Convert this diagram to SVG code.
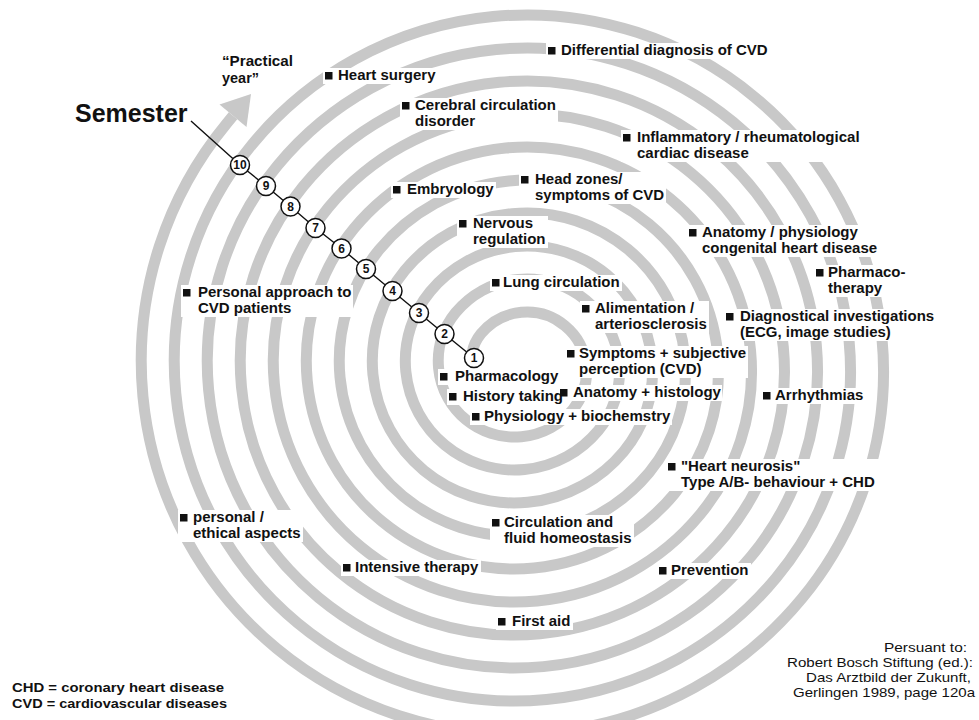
<svg xmlns="http://www.w3.org/2000/svg" width="979" height="720" viewBox="0 0 979 720">
<style>
.band{fill:none;stroke:#c8c8c8;stroke-width:11;stroke-linecap:butt}
.lbl{font-family:"Liberation Sans",Arial,sans-serif;font-weight:bold;font-size:15px;fill:#111}
.leg{font-family:"Liberation Sans",Arial,sans-serif;font-weight:bold;font-size:13.6px;fill:#111}
.reg{font-family:"Liberation Sans",Arial,sans-serif;font-size:13.4px;fill:#111}
.bg{fill:#fff}
.bul{fill:#111}
.sem{fill:#fff;stroke:#111;stroke-width:1.5}
.num{font-family:"Liberation Sans",Arial,sans-serif;font-weight:bold;font-size:12px;fill:#111;text-anchor:middle}
.chain{fill:none;stroke:#111;stroke-width:1.4}
</style>
<rect width="979" height="720" fill="#fff"/>
<g id="spiral">
<path class="band" d="M 471.9 353.5 A 43 43 0 0 1 481.13 333.60 A 59.5 59.5 0 0 1 572.87 409.40 A 76 76 0 0 1 455.68 312.58 A 92.5 92.5 0 0 1 598.32 430.42 A 109 109 0 0 1 430.24 291.56 A 125.5 125.5 0 0 1 623.76 451.44 A 142 142 0 0 1 404.80 270.54 A 158.5 158.5 0 0 1 649.20 472.46 A 175 175 0 0 1 379.35 249.51 A 191.5 191.5 0 0 1 674.65 493.49 A 208 208 0 0 1 353.91 228.49 A 224.5 224.5 0 0 1 700.09 514.51 A 241 241 0 0 1 328.47 207.47 A 257.5 257.5 0 0 1 725.53 535.53 A 274 274 0 0 1 303.02 186.45 A 290.5 290.5 0 0 1 750.98 556.55 A 307 307 0 0 1 277.58 165.43 A 323.5 323.5 0 0 1 776.42 577.57 A 340 340 0 0 1 252.14 144.41 A 356.5 356.5 0 0 1 801.86 598.59 A 373 373 0 0 1 226.70 123.39 L 233 115.7"/>
<polygon points="219.5,104.5 246.5,127 251,94" fill="#c8c8c8"/>
</g>
<g id="label-practical-year"><text class="lbl" x="222" y="66" style="font-size:14px" textLength="71" lengthAdjust="spacingAndGlyphs">“Practical</text><text class="lbl" x="222" y="83" style="font-size:14px" textLength="37" lengthAdjust="spacingAndGlyphs">year”</text></g>

<g id="n-anatomy-histology"><rect class="bg" x="558" y="385" width="164" height="16"/><rect class="bul" x="560" y="389" width="7.5" height="7.5"/><text class="lbl" x="573" y="397">Anatomy + histology</text></g>
<g id="n-differential"><rect class="bg" x="546" y="43" width="224" height="16"/><rect class="bul" x="548" y="47" width="7.5" height="7.5"/><text class="lbl" x="561" y="55">Differential diagnosis of CVD</text></g>
<g id="n-heart-surgery"><rect class="bg" x="323" y="68" width="115" height="16"/><rect class="bul" x="325" y="72" width="7.5" height="7.5"/><text class="lbl" x="338" y="80">Heart surgery</text></g>
<g id="n-cerebral"><rect class="bg" x="400" y="98" width="158" height="32"/><rect class="bul" x="402" y="102" width="7.5" height="7.5"/><text class="lbl" x="415" y="110">Cerebral circulation</text><text class="lbl" x="415" y="126">disorder</text></g>
<g id="n-inflammatory"><rect class="bg" x="621" y="130" width="240" height="32"/><rect class="bul" x="623" y="134" width="7.5" height="7.5"/><text class="lbl" x="637" y="142">Inflammatory / rheumatological</text><text class="lbl" x="637" y="158">cardiac disease</text></g>
<g id="n-embryology"><rect class="bg" x="391" y="182" width="105" height="16"/><rect class="bul" x="393" y="186" width="7.5" height="7.5"/><text class="lbl" x="407" y="194">Embryology</text></g>
<g id="n-head-zones"><rect class="bg" x="519" y="172" width="147" height="32"/><rect class="bul" x="521" y="176" width="7.5" height="7.5"/><text class="lbl" x="535" y="184">Head zones/</text><text class="lbl" x="535" y="200">symptoms of CVD</text></g>
<g id="n-nervous"><rect class="bg" x="457" y="216" width="91" height="32"/><rect class="bul" x="459" y="220" width="7.5" height="7.5"/><text class="lbl" x="473" y="228">Nervous</text><text class="lbl" x="473" y="244">regulation</text></g>
<g id="n-anatomy-physiology"><rect class="bg" x="687" y="225" width="192" height="32"/><rect class="bul" x="689" y="229" width="7.5" height="7.5"/><text class="lbl" x="702" y="237">Anatomy / physiology</text><text class="lbl" x="702" y="253">congenital heart disease</text></g>
<g id="n-pharmacotherapy"><rect class="bg" x="814" y="265" width="94" height="32"/><rect class="bul" x="816" y="269" width="7.5" height="7.5"/><text class="lbl" x="828" y="277">Pharmaco-</text><text class="lbl" x="828" y="293">therapy</text></g>
<g id="n-lung"><rect class="bg" x="490" y="275" width="132" height="16"/><rect class="bul" x="492" y="279" width="7.5" height="7.5"/><text class="lbl" x="503" y="287">Lung circulation</text></g>
<g id="n-alimentation"><rect class="bg" x="580" y="301" width="129" height="32"/><rect class="bul" x="582" y="305" width="7.5" height="7.5"/><text class="lbl" x="595" y="313">Alimentation /</text><text class="lbl" x="595" y="329">arteriosclerosis</text></g>
<g id="n-diagnostical"><rect class="bg" x="724" y="309" width="212" height="32"/><rect class="bul" x="726" y="313" width="7.5" height="7.5"/><text class="lbl" x="740" y="321">Diagnostical investigations</text><text class="lbl" x="740" y="337">(ECG, image studies)</text></g>
<g id="n-personal-approach"><rect class="bg" x="181" y="285" width="172" height="32"/><rect class="bul" x="183" y="289" width="7.5" height="7.5"/><text class="lbl" x="198" y="297">Personal approach to</text><text class="lbl" x="198" y="313">CVD patients</text></g>
<g id="n-symptoms"><rect class="bg" x="565" y="346" width="183" height="32"/><rect class="bul" x="567" y="350" width="7.5" height="7.5"/><text class="lbl" x="579" y="358">Symptoms + subjective</text><text class="lbl" x="579" y="374">perception (CVD)</text></g>
<g id="n-pharmacology"><rect class="bg" x="438" y="369" width="122" height="16"/><rect class="bul" x="440" y="373" width="7.5" height="7.5"/><text class="lbl" x="455" y="381">Pharmacology</text></g>
<g id="n-history"><rect class="bg" x="447" y="389" width="112" height="16"/><rect class="bul" x="449" y="393" width="7.5" height="7.5"/><text class="lbl" x="463" y="401">History taking</text></g>
<g id="n-physiology"><rect class="bg" x="470" y="409" width="202" height="16"/><rect class="bul" x="472" y="413" width="7.5" height="7.5"/><text class="lbl" x="484" y="421">Physiology + biochemstry</text></g>
<g id="n-arrhythmias"><rect class="bg" x="761" y="388" width="105" height="16"/><rect class="bul" x="763" y="392" width="7.5" height="7.5"/><text class="lbl" x="775" y="400">Arrhythmias</text></g>
<g id="n-heart-neurosis"><rect class="bg" x="666" y="459" width="213" height="32"/><rect class="bul" x="668" y="463" width="7.5" height="7.5"/><text class="lbl" x="681" y="471">"Heart neurosis"</text><text class="lbl" x="681" y="487">Type A/B- behaviour + CHD</text></g>
<g id="n-personal-ethical"><rect class="bg" x="178" y="510" width="125" height="32"/><rect class="bul" x="180" y="514" width="7.5" height="7.5"/><text class="lbl" x="193" y="522">personal /</text><text class="lbl" x="193" y="538">ethical aspects</text></g>
<g id="n-circulation"><rect class="bg" x="490" y="515" width="144" height="32"/><rect class="bul" x="492" y="519" width="7.5" height="7.5"/><text class="lbl" x="504" y="527">Circulation and</text><text class="lbl" x="504" y="543">fluid homeostasis</text></g>
<g id="n-intensive"><rect class="bg" x="341" y="560" width="140" height="16"/><rect class="bul" x="343" y="564" width="7.5" height="7.5"/><text class="lbl" x="355" y="572">Intensive therapy</text></g>
<g id="n-prevention"><rect class="bg" x="657" y="563" width="94" height="16"/><rect class="bul" x="659" y="567" width="7.5" height="7.5"/><text class="lbl" x="671" y="575">Prevention</text></g>
<g id="n-first-aid"><rect class="bg" x="496" y="614" width="77" height="16"/><rect class="bul" x="498" y="618" width="7.5" height="7.5"/><text class="lbl" x="512" y="626">First aid</text></g>

<g id="connectors">
<polyline class="chain" points="191,121 240,165 266,186 290.5,206.5 315.5,228 341.5,248.5 366,269 392.5,291 419,313 444.5,334 474,358"/>
</g>
<g id="semester-label"><text x="75" y="122" style="font-family:'Liberation Sans',Arial,sans-serif;font-weight:bold;font-size:25px;fill:#111">Semester</text></g>
<g id="s10"><circle class="sem" cx="240" cy="165" r="9.5"/><text class="num" x="240" y="169.3">10</text></g>
<g id="s9"><circle class="sem" cx="266" cy="186" r="9.5"/><text class="num" x="266" y="190.3">9</text></g>
<g id="s8"><circle class="sem" cx="290.5" cy="206.5" r="9.5"/><text class="num" x="290.5" y="210.8">8</text></g>
<g id="s7"><circle class="sem" cx="315.5" cy="228" r="9.5"/><text class="num" x="315.5" y="232.3">7</text></g>
<g id="s6"><circle class="sem" cx="341.5" cy="248.5" r="9.5"/><text class="num" x="341.5" y="252.8">6</text></g>
<g id="s5"><circle class="sem" cx="366" cy="269" r="9.5"/><text class="num" x="366" y="273.3">5</text></g>
<g id="s4"><circle class="sem" cx="392.5" cy="291" r="9.5"/><text class="num" x="392.5" y="295.3">4</text></g>
<g id="s3"><circle class="sem" cx="419" cy="313" r="9.5"/><text class="num" x="419" y="317.3">3</text></g>
<g id="s2"><circle class="sem" cx="444.5" cy="334" r="9.5"/><text class="num" x="444.5" y="338.3">2</text></g>
<g id="s1"><circle class="sem" cx="474" cy="358" r="9.5"/><text class="num" x="474" y="362.3">1</text></g>

<g id="legend-abbrev"><text class="leg" x="12" y="692" textLength="212" lengthAdjust="spacingAndGlyphs">CHD = coronary heart disease</text><text class="leg" x="12" y="708" textLength="215" lengthAdjust="spacingAndGlyphs">CVD = cardiovascular diseases</text></g>
<g id="legend-source" text-anchor="end"><text class="reg" x="967" y="652" textLength="83" lengthAdjust="spacingAndGlyphs">Persuant to:</text><text class="reg" x="973" y="667" textLength="186" lengthAdjust="spacingAndGlyphs">Robert Bosch Stiftung (ed.):</text><text class="reg" x="971" y="682" textLength="165" lengthAdjust="spacingAndGlyphs">Das Arztbild der Zukunft,</text><text class="reg" x="975" y="697" textLength="182" lengthAdjust="spacingAndGlyphs">Gerlingen 1989, page 120a</text></g>
</svg>
